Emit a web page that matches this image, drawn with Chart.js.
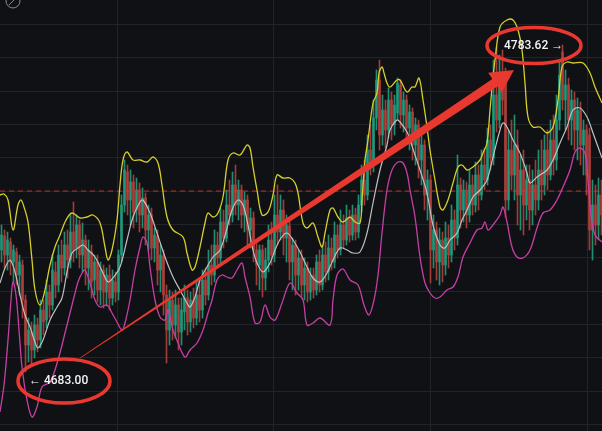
<!DOCTYPE html>
<html>
<head>
<meta charset="utf-8">
<script src="https://cdn.jsdelivr.net/npm/chart.js@4.4.1/dist/chart.umd.min.js"></script>
<style>
  html, body { margin: 0; padding: 0; background: #101114; }
  #wrap { width: 602px; height: 431px; position: relative; }
</style>
</head>
<body>
<div id="wrap"><canvas id="chart"></canvas></div>
<script>
// 3-minute candles, one per bar
const opens = [
  4722.3, 4726.5, 4720.8, 4724.7, 4718.7, 4721.7, 4714.8, 4717.8, 4707.3, 4693.8,
  4697.7, 4692.3, 4699.8, 4695.3, 4704.3, 4701.3, 4709.7, 4705.8, 4715.7, 4711.8,
  4720.8, 4716.9, 4723.8, 4719.3, 4727.7, 4722.9, 4729.8, 4720.8, 4725.3, 4716.9,
  4721.7, 4713.3, 4718.7, 4710.3, 4716.3, 4709.7, 4714.8, 4707.9, 4712.7, 4709.7,
  4720.8, 4735.8, 4745.7, 4737.3, 4742.7, 4734.3, 4740.3, 4732.8, 4737.9, 4728.3,
  4732.8, 4722.9, 4726.5, 4716.3, 4720.5, 4708.8, 4698.3, 4707.3, 4699.8, 4705.8,
  4697.7, 4703.7, 4707.9, 4700.7, 4707.3, 4701.9, 4708.8, 4704.3, 4713.3, 4708.8,
  4717.8, 4714.8, 4723.8, 4719.9, 4730.7, 4725.9, 4735.8, 4732.8, 4741.8, 4735.8,
  4740.3, 4732.8, 4737.3, 4728.3, 4731.9, 4722.3, 4717.8, 4722.3, 4713.9, 4719.3,
  4725.3, 4720.8, 4732.8, 4727.7, 4734.3, 4725.9, 4729.5, 4718.7, 4723.8, 4714.8,
  4719.9, 4711.8, 4716.9, 4709.7, 4714.8, 4710.3, 4718.7, 4711.8, 4720.8, 4715.7,
  4722.9, 4718.7, 4726.8, 4722.3, 4729.8, 4725.3, 4731.9, 4726.8, 4732.8, 4727.7,
  4735.8, 4743.3, 4738.8, 4752.3, 4747.8, 4761.9, 4773.3, 4756.8, 4764.3, 4758.3,
  4767.3, 4759.8, 4763.4, 4771.8, 4762.8, 4767.3, 4758.9, 4763.7, 4753.8, 4759.8,
  4749.3, 4753.8, 4738.8, 4743.3, 4722.3, 4728.3, 4718.7, 4725.3, 4717.8, 4725.9,
  4720.8, 4731.3, 4725.9, 4741.8, 4734.3, 4740.3, 4732.8, 4741.8, 4735.8, 4744.8,
  4738.8, 4747.8, 4743.3, 4755.3, 4749.9, 4768.8, 4761.3, 4773.3, 4774.8, 4737.3,
  4752.3, 4744.8, 4753.8, 4738.8, 4746.3, 4735.8, 4743.3, 4734.3, 4741.8, 4737.3,
  4746.3, 4741.8, 4752.3, 4744.8, 4755.3, 4749.3, 4761.3, 4781.7, 4767.3, 4771.8,
  4761.3, 4767.3, 4758.3, 4764.3, 4753.8, 4758.3, 4756.8, 4728.3, 4735.8, 4729.8,
  4738.8
];
const closes = [
  4726.8, 4720.8, 4725.3, 4718.7, 4722.3, 4714.8, 4718.7, 4707.3, 4693.8, 4698.3,
  4692.3, 4699.8, 4695.3, 4704.3, 4700.7, 4709.7, 4705.8, 4716.3, 4711.8, 4720.8,
  4716.9, 4723.8, 4719.3, 4727.7, 4722.3, 4729.8, 4720.8, 4725.3, 4716.9, 4722.3,
  4712.7, 4718.7, 4710.3, 4716.3, 4709.7, 4714.8, 4707.9, 4713.3, 4709.7, 4720.8,
  4735.8, 4746.3, 4737.3, 4742.7, 4733.7, 4740.3, 4732.8, 4737.9, 4728.3, 4732.8,
  4722.9, 4726.8, 4716.3, 4720.8, 4708.8, 4698.3, 4707.3, 4699.8, 4705.8, 4697.7,
  4704.3, 4707.9, 4700.7, 4707.3, 4701.9, 4708.8, 4704.3, 4713.3, 4708.8, 4717.8,
  4714.8, 4723.8, 4719.9, 4730.7, 4725.9, 4735.8, 4732.8, 4741.8, 4735.8, 4740.3,
  4732.8, 4737.3, 4728.3, 4731.9, 4722.3, 4717.8, 4722.3, 4713.9, 4719.3, 4725.3,
  4720.8, 4732.8, 4727.7, 4734.3, 4725.9, 4729.8, 4718.7, 4723.8, 4714.8, 4719.9,
  4711.8, 4716.9, 4709.7, 4714.8, 4710.3, 4718.7, 4711.8, 4720.8, 4715.7, 4722.9,
  4718.7, 4726.8, 4722.3, 4729.8, 4725.3, 4731.9, 4726.8, 4732.8, 4727.7, 4735.8,
  4743.3, 4738.8, 4752.3, 4747.8, 4761.9, 4773.3, 4756.8, 4764.3, 4758.3, 4767.3,
  4759.8, 4765.8, 4772.4, 4762.8, 4767.3, 4758.9, 4763.7, 4753.8, 4759.8, 4749.3,
  4753.8, 4738.8, 4743.3, 4722.3, 4728.3, 4718.7, 4725.3, 4717.8, 4725.9, 4720.8,
  4731.3, 4725.9, 4741.8, 4734.3, 4740.3, 4732.8, 4741.8, 4735.8, 4744.8, 4738.8,
  4747.8, 4743.3, 4755.3, 4749.9, 4768.8, 4761.3, 4773.3, 4767.3, 4737.3, 4752.3,
  4744.8, 4753.8, 4738.8, 4746.3, 4735.8, 4743.3, 4734.3, 4741.8, 4737.3, 4746.3,
  4741.8, 4752.3, 4744.8, 4755.3, 4749.3, 4761.3, 4774.8, 4767.3, 4771.8, 4761.3,
  4767.3, 4758.3, 4764.3, 4753.8, 4758.3, 4744.8, 4728.3, 4735.8, 4729.8, 4738.8,
  4732.8
];
const highs = [
  4729.8, 4728.3, 4727.7, 4725.9, 4723.8, 4722.9, 4720.8, 4719.3, 4708.8, 4701.9,
  4700.7, 4702.8, 4701.9, 4707.3, 4707.3, 4713.3, 4711.8, 4720.8, 4718.7, 4723.8,
  4725.3, 4727.7, 4728.3, 4732.8, 4736.7, 4732.8, 4731.3, 4730.4, 4726.8, 4725.3,
  4723.8, 4720.8, 4720.8, 4718.7, 4717.8, 4716.9, 4717.8, 4716.3, 4715.7, 4722.3,
  4738.8, 4749.3, 4747.8, 4746.3, 4744.8, 4743.9, 4742.4, 4740.9, 4739.4, 4735.8,
  4734.9, 4728.9, 4728.3, 4723.8, 4722.3, 4711.8, 4710.3, 4709.7, 4710.3, 4707.9,
  4707.9, 4711.8, 4710.3, 4709.7, 4710.9, 4712.7, 4713.3, 4716.3, 4716.9, 4722.3,
  4723.8, 4728.3, 4727.7, 4734.9, 4734.3, 4740.3, 4743.3, 4745.7, 4747.8, 4743.3,
  4741.8, 4739.7, 4738.8, 4734.9, 4733.7, 4725.3, 4723.8, 4723.8, 4722.9, 4729.8,
  4730.7, 4738.8, 4741.8, 4738.8, 4737.3, 4732.8, 4731.3, 4725.9, 4725.3, 4722.3,
  4722.3, 4719.9, 4718.7, 4716.9, 4716.9, 4720.8, 4722.3, 4723.8, 4724.7, 4726.8,
  4725.9, 4730.7, 4729.8, 4734.3, 4732.8, 4735.8, 4734.3, 4735.8, 4734.9, 4738.8,
  4747.8, 4749.3, 4756.8, 4759.8, 4767.3, 4776.3, 4779.3, 4768.8, 4767.3, 4770.9,
  4769.7, 4768.8, 4773.9, 4773.3, 4769.7, 4768.8, 4765.8, 4764.9, 4761.9, 4761.3,
  4756.8, 4755.3, 4746.3, 4744.8, 4732.8, 4730.7, 4728.9, 4727.7, 4730.7, 4729.8,
  4735.8, 4734.3, 4750.8, 4743.9, 4743.3, 4742.7, 4746.3, 4744.8, 4748.7, 4747.8,
  4752.3, 4752.9, 4758.9, 4759.8, 4779.3, 4783.2, 4780.8, 4782.3, 4776.9, 4758.3,
  4761.3, 4762.8, 4758.3, 4750.8, 4752.3, 4747.8, 4747.8, 4746.3, 4749.3, 4752.3,
  4755.3, 4756.8, 4758.3, 4761.3, 4762.8, 4768.8, 4779.3, 4783.8, 4776.3, 4773.9,
  4770.3, 4769.7, 4767.9, 4766.7, 4761.3, 4759.8, 4758.9, 4743.3, 4741.8, 4743.9,
  4743.3
];
const lows = [
  4718.7, 4716.9, 4716.3, 4714.8, 4712.7, 4711.8, 4708.8, 4701.9, 4685.7, 4688.7,
  4687.8, 4689.9, 4691.7, 4692.9, 4696.8, 4698.9, 4701.9, 4704.3, 4707.9, 4709.7,
  4712.7, 4714.8, 4713.9, 4716.9, 4718.7, 4719.9, 4716.9, 4715.7, 4711.8, 4710.3,
  4707.9, 4708.8, 4706.7, 4705.8, 4704.9, 4705.5, 4704.3, 4705.8, 4706.7, 4707.3,
  4718.7, 4733.7, 4732.8, 4729.8, 4728.9, 4730.7, 4727.7, 4728.9, 4723.8, 4722.3,
  4719.3, 4718.7, 4711.8, 4709.7, 4702.8, 4688.4, 4693.8, 4695.3, 4695.9, 4692.3,
  4693.8, 4698.3, 4696.8, 4697.7, 4698.9, 4699.8, 4700.7, 4701.9, 4705.8, 4707.3,
  4711.8, 4712.7, 4716.9, 4717.8, 4722.9, 4724.7, 4729.8, 4730.7, 4732.8, 4731.3,
  4728.9, 4727.7, 4723.8, 4722.9, 4718.7, 4711.8, 4710.3, 4708.2, 4710.3, 4715.7,
  4717.8, 4718.7, 4723.8, 4725.3, 4720.8, 4718.7, 4713.3, 4710.3, 4708.8, 4710.3,
  4708.2, 4707.3, 4706.7, 4707.3, 4707.9, 4708.8, 4709.7, 4710.3, 4712.7, 4713.3,
  4716.3, 4716.9, 4719.9, 4720.8, 4722.9, 4723.8, 4724.7, 4725.3, 4725.3, 4725.9,
  4733.7, 4735.8, 4737.3, 4744.8, 4745.7, 4758.3, 4752.3, 4753.8, 4752.9, 4755.9,
  4755.3, 4756.8, 4761.3, 4758.9, 4757.7, 4754.7, 4752.3, 4749.3, 4747.8, 4743.9,
  4741.8, 4734.3, 4731.3, 4712.4, 4716.9, 4713.3, 4711.8, 4712.7, 4714.8, 4716.9,
  4718.7, 4722.3, 4723.8, 4728.9, 4730.7, 4728.9, 4730.7, 4732.8, 4733.7, 4734.3,
  4737.3, 4740.3, 4741.8, 4746.3, 4747.8, 4757.7, 4758.9, 4762.8, 4732.2, 4734.3,
  4740.3, 4737.3, 4729.8, 4728.3, 4726.8, 4731.3, 4728.3, 4729.8, 4732.8, 4734.3,
  4737.3, 4738.8, 4740.3, 4743.3, 4744.8, 4746.3, 4758.3, 4764.3, 4758.3, 4755.3,
  4753.8, 4752.3, 4749.3, 4747.8, 4744.8, 4738.8, 4722.3, 4719.3, 4723.8, 4725.3,
  4726.8
];

// bollinger bands (time in minutes, price)
const upperTimes = [0,4,8,13,18,21,24,28,32,35,40,45,50,55,60,66,72,80,87,93,100,105,108,112,117,120,123,127,133,140,147,153,158,162,167,173,183,187,192,195,200,205,208,213,218,223,228,233,240,247,250,253,257,262,268,273,277,283,290,295,298,303,307,313,318,322,325,330,333,338,343,350,355,360,362,365,368,373,377,379,382,384,387,390,397,400,407,412,415,419,423,427,430,435,440,443,448,453,458,462,467,473,480,483,487,490,493,495,500,507,513,518,522,525,528,533,540,547,553,558,562,567,573,583,590,595,602];
const upperBand = [4738.8,4739.1,4737.3,4728.3,4735.8,4737.3,4735.2,4730.7,4719.3,4710.3,4705.8,4710.3,4717.8,4723.2,4726.8,4731.3,4733.4,4731.9,4732.2,4732.8,4730.4,4723.2,4719.3,4722.3,4731.3,4741.8,4749.3,4751.7,4749.3,4749.3,4748.7,4750.2,4748.4,4741.8,4732.2,4728.3,4726.2,4721.4,4716.3,4717.2,4723.2,4730.4,4733.4,4732.2,4733.4,4738.2,4749.3,4751.4,4750.8,4753.8,4752.9,4747.2,4740.3,4732.8,4733.7,4738.8,4744.8,4743.9,4743.9,4742.4,4739.4,4730.4,4728.9,4730.4,4726.2,4723.2,4727.4,4734.3,4734.9,4732.2,4730.7,4732.2,4730.7,4730.4,4737.3,4749.3,4755.3,4766.4,4769.4,4775.4,4777.2,4775.4,4772.4,4771.2,4773.3,4773.3,4769.7,4771.2,4771.2,4773.9,4767.3,4759.2,4752.3,4743.3,4735.2,4734.3,4737.3,4742.4,4747.2,4747.8,4746.3,4747.2,4749.3,4751.4,4754.4,4764.3,4774.2,4779.3,4789.2,4791.3,4791.3,4788.3,4782.3,4772.4,4762.2,4759.2,4759.2,4757.4,4759.2,4767.3,4777.2,4778.7,4778.4,4778.4,4775.4,4771.2,4766.4];

const middleTimes = [0,5,10,15,20,25,30,35,38,43,50,57,62,67,72,78,83,88,95,103,108,113,120,127,133,140,143,150,157,165,173,180,187,190,195,200,207,213,220,226,232,238,243,248,253,257,263,270,275,281,287,293,300,307,313,320,327,333,340,347,353,360,367,373,380,387,390,397,400,407,410,415,420,427,433,440,445,450,457,462,467,473,480,487,493,500,503,507,513,520,527,530,537,547,553,560,567,573,580,587,593,602];
const middleBand = [4712.4,4716.9,4719.3,4715.7,4708.8,4702.8,4699.2,4694.7,4692.9,4695.3,4701.3,4705.2,4707.9,4715.7,4721.4,4722.9,4723.8,4722.3,4720.2,4715.4,4712.7,4713.9,4717.2,4725.3,4732.2,4736.7,4737.3,4733.4,4727.4,4720.2,4714.2,4710.3,4706.4,4705.2,4708.2,4713.3,4717.2,4720.2,4722.3,4727.7,4734.3,4737.3,4735.8,4729.8,4722.3,4718.4,4715.7,4718.4,4722.3,4725.9,4727.4,4725.3,4721.7,4717.2,4713.9,4712.7,4715.4,4719.3,4722.9,4722.3,4721.4,4721.7,4727.4,4736.4,4746.3,4753.8,4758.3,4761.3,4760.7,4757.7,4755.3,4750.8,4746.3,4739.4,4729.8,4723.8,4722.9,4725.3,4727.4,4731.3,4734.3,4738.2,4740.3,4743.3,4750.2,4758.3,4760.4,4759.2,4755.3,4751.4,4745.4,4742.4,4744.2,4746.3,4749.3,4754.4,4759.2,4764.3,4764.9,4762.2,4757.4,4749.9];

const lowerTimes = [0,4,8,11,13,16,19,22,27,32,37,42,50,58,65,70,74,78,82,85,90,95,100,107,112,117,122,125,130,135,140,143,147,150,155,160,165,168,173,178,185,190,197,203,208,212,217,222,227,232,237,242,245,250,255,260,265,270,275,282,290,297,303,307,313,320,330,333,337,343,350,358,364,369,374,378,382,387,392,398,403,407,410,415,420,425,430,435,440,447,453,458,463,470,477,482,485,488,493,500,503,507,512,517,523,530,537,543,550,557,563,570,575,580,585,588,591,595,602];
const lowerBand = [4673.7,4681.8,4695.3,4707.3,4712.7,4708.8,4698.3,4687.2,4677.3,4672.2,4675.2,4681.2,4682.7,4689.3,4697.4,4703.4,4708.2,4712.7,4715.4,4716.3,4712.4,4707.3,4705.2,4705.8,4703.4,4700.7,4698.3,4700.4,4707.3,4716.3,4723.2,4726.2,4724.4,4717.2,4707.3,4702.2,4701.3,4704.3,4698.3,4694.4,4690.2,4692.3,4694.4,4698.3,4703.4,4707.3,4713.3,4714.8,4714.2,4713.9,4716.3,4718.4,4714.2,4708.2,4700.4,4700.7,4705.8,4702.2,4701.3,4706.4,4712.4,4709.4,4707.3,4699.8,4700.4,4701.9,4699.8,4707.3,4714.8,4716.6,4713.3,4711.8,4705.8,4702.8,4707.3,4714.8,4727.4,4740.3,4746.3,4748.7,4748.4,4745.4,4740.3,4732.2,4720.2,4712.4,4709.4,4707.9,4708.2,4710.3,4711.2,4714.2,4720.2,4724.4,4728.3,4728.9,4730.7,4728.3,4729.8,4732.8,4735.2,4730.7,4723.2,4720.2,4719.9,4722.3,4728.9,4733.4,4734.3,4737.3,4741.2,4746.3,4751.7,4752.9,4751.4,4743.3,4732.8,4726.8,4724.7];

const lastPrice = 4740;
const priceTicks = [4790, 4780, 4770, 4760, 4750, 4740, 4730, 4720, 4710, 4700, 4690, 4680, 4670];
const timeTicks = [117, 273.5, 430, 587];

// marked extremes and the move between them
const lowMark = { time: 29, price: 4683.00, text: '\u2190 4683.00' };
const highMark = { time: 504, price: 4783.62, text: '4783.62 \u2192' };
const moveFrom = { time: 80, price: 4689.9 };
const moveTo = { time: 514, price: 4776.3 };

const UP = 'rgba(31,154,124,0.92)';
const DOWN = 'rgba(176,63,60,0.92)';
const MARK = '#e8382f';

const times = opens.map((_, i) => i * 3 + 1.5);
const candleColors = opens.map((o, i) => (closes[i] >= o ? UP : DOWN));
const toPoints = (ts, vs) => ts.map((t, i) => ({ x: t, y: vs[i] }));

const background = {
  id: 'background',
  beforeDraw(chart) {
    const { ctx, width, height } = chart;
    ctx.save();
    ctx.fillStyle = '#101114';
    ctx.fillRect(0, 0, width, height);
    ctx.restore();
  }
};

const marks = {
  id: 'marks',
  afterDraw(chart) {
    const { ctx } = chart;
    const xs = chart.scales.x, ys = chart.scales.y;

    ctx.save();

    // tapered arrow from the low to the high
    const x0 = xs.getPixelForValue(moveFrom.time), y0 = ys.getPixelForValue(moveFrom.price);
    const x1 = xs.getPixelForValue(moveTo.time), y1 = ys.getPixelForValue(moveTo.price);
    const len = Math.hypot(x1 - x0, y1 - y0);
    const ux = (x1 - x0) / len, uy = (y1 - y0) / len;
    const nx = -uy, ny = ux;
    const headLen = 23, headW = 12, w0 = 0.4, w1 = 4.5;
    const bx = x1 - ux * headLen, by = y1 - uy * headLen;
    ctx.fillStyle = MARK;
    ctx.beginPath();
    ctx.moveTo(x0 + nx * w0, y0 + ny * w0);
    ctx.lineTo(bx + nx * w1, by + ny * w1);
    ctx.lineTo(bx + nx * headW, by + ny * headW);
    ctx.lineTo(x1, y1);
    ctx.lineTo(bx - nx * headW, by - ny * headW);
    ctx.lineTo(bx - nx * w1, by - ny * w1);
    ctx.lineTo(x0 - nx * w0, y0 - ny * w0);
    ctx.closePath();
    ctx.fill();

    // labels with hand drawn circles
    ctx.font = '500 12px Roboto, "Noto Sans", sans-serif';
    ctx.textBaseline = 'middle';
    ctx.textAlign = 'left';
    const label = (m, dx, rx, ry) => {
      const tx = xs.getPixelForValue(m.time), ty = ys.getPixelForValue(m.price);
      ctx.fillStyle = '#f4f4f4';
      ctx.fillText(m.text, tx, ty);
      ctx.strokeStyle = MARK;
      ctx.lineWidth = 3.5;
      ctx.beginPath();
      ctx.ellipse(tx + dx, ty, rx, ry, 0, 0, Math.PI * 2);
      ctx.stroke();
    };
    label(lowMark, 35, 46, 22);
    label(highMark, 30, 47, 18);

    // toolbar icon peeking in at the top left
    ctx.strokeStyle = '#8c8c8c';
    ctx.lineWidth = 1;
    ctx.beginPath();
    ctx.arc(13, 1, 7, 0, Math.PI * 2);
    ctx.moveTo(9, 5);
    ctx.lineTo(16, -2);
    ctx.stroke();

    ctx.restore();
  }
};

new Chart(document.getElementById('chart'), {
  type: 'bar',
  data: {
    datasets: [
      {
        label: 'Upper',
        type: 'line',
        data: toPoints(upperTimes, upperBand),
        borderColor: '#d6cf2c',
        borderWidth: 1.3,
        pointRadius: 0,
        tension: 0.35,
        order: 1
      },
      {
        label: 'Middle',
        type: 'line',
        data: toPoints(middleTimes, middleBand),
        borderColor: '#bfc0c3',
        borderWidth: 1.2,
        pointRadius: 0,
        tension: 0.35,
        order: 1
      },
      {
        label: 'Lower',
        type: 'line',
        data: toPoints(lowerTimes, lowerBand),
        borderColor: '#c63fa6',
        borderWidth: 1.3,
        pointRadius: 0,
        tension: 0.35,
        order: 1
      },
      {
        label: 'Last',
        type: 'line',
        data: [{ x: 0, y: lastPrice }, { x: 602, y: lastPrice }],
        borderColor: 'rgba(200,60,60,0.85)',
        borderWidth: 1,
        borderDash: [5, 4],
        pointRadius: 0,
        order: 3
      },
      {
        label: 'Body',
        data: times.map((t, i) => ({ x: t, y: [opens[i], closes[i]] })),
        backgroundColor: candleColors,
        barThickness: 2,
        grouped: false,
        order: 4
      },
      {
        label: 'Wick',
        data: times.map((t, i) => ({ x: t, y: [lows[i], highs[i]] })),
        backgroundColor: candleColors,
        barThickness: 1,
        grouped: false,
        order: 5
      }
    ]
  },
  options: {
    responsive: true,
    maintainAspectRatio: false,
    animation: false,
    layout: { padding: 0 },
    plugins: { legend: { display: false }, tooltip: { enabled: false } },
    scales: {
      x: {
        type: 'linear',
        min: 0,
        max: 602,
        offset: false,
        afterBuildTicks: (s) => { s.ticks = timeTicks.map((v) => ({ value: v })); },
        ticks: { display: false },
        grid: { color: '#222428', drawTicks: false, offset: false },
        border: { display: false }
      },
      y: {
        min: 4668.0,
        max: 4797.3,
        afterBuildTicks: (s) => { s.ticks = priceTicks.map((v) => ({ value: v })); },
        ticks: { display: false },
        grid: { color: '#222428', drawTicks: false, offset: false },
        border: { display: false }
      }
    }
  },
  plugins: [background, marks]
});
</script>
</body>
</html>
